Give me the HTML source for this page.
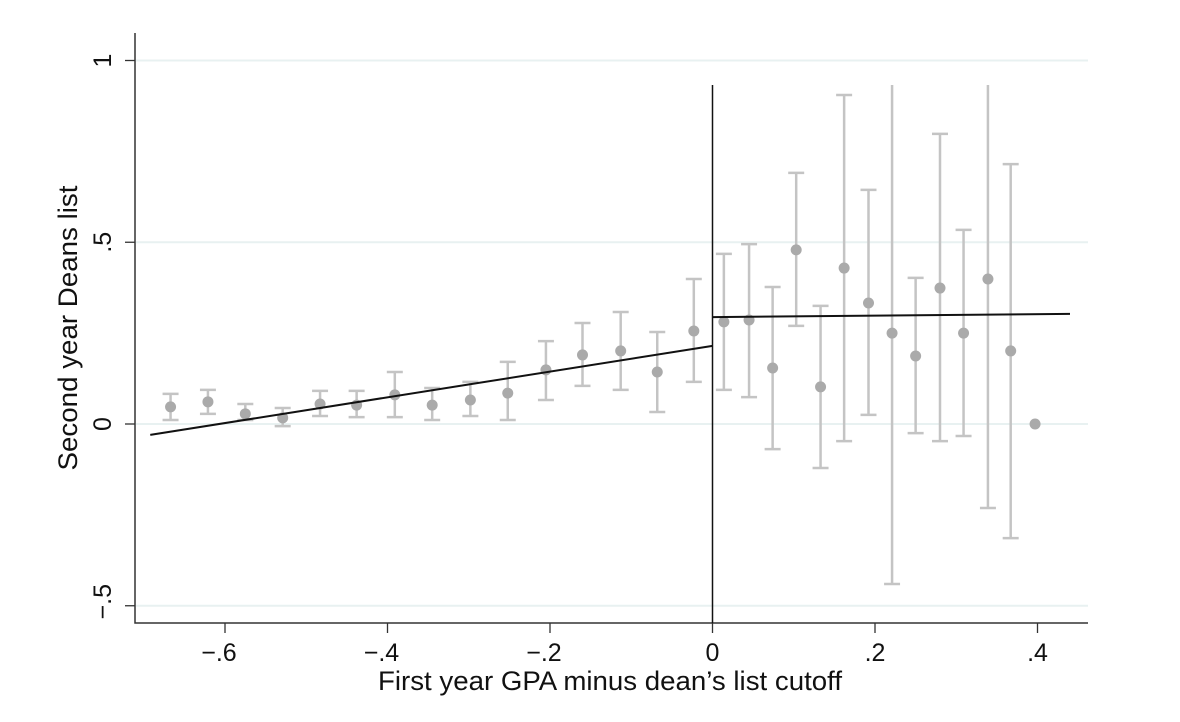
<!DOCTYPE html>
<html><head><meta charset="utf-8"><style>
html,body{margin:0;padding:0;background:#fff}
svg{display:block;font-family:"Liberation Sans",Arial,sans-serif}
</style></head><body>
<svg id="chart" width="1180" height="722" viewBox="0 0 1180 722" xmlns="http://www.w3.org/2000/svg">
<g id="grid"></g>
<g id="bars"></g>
<g id="pts"></g>
<g id="fits"></g>
<g id="axes"></g>
<text x="610" y="690" font-size="27" text-anchor="middle" fill="#111" textLength="464" lengthAdjust="spacingAndGlyphs">First year GPA minus dean’s list cutoff</text>
<text transform="translate(77,328) rotate(-90)" font-size="27" text-anchor="middle" fill="#111" textLength="285" lengthAdjust="spacingAndGlyphs">Second year Deans list</text>
</svg>
<script>
const binX=[-0.667,-0.621,-0.575,-0.529,-0.483,-0.438,-0.391,-0.345,-0.298,-0.252,-0.205,-0.160,-0.113,-0.068,-0.023,0.014,0.045,0.074,0.103,0.133,0.162,0.192,0.221,0.250,0.280,0.309,0.339,0.367,0.397];
const binMean=[0.047,0.061,0.028,0.017,0.055,0.052,0.080,0.052,0.066,0.085,0.149,0.190,0.201,0.143,0.256,0.281,0.286,0.154,0.479,0.102,0.429,0.333,0.250,0.187,0.374,0.250,0.399,0.201,0];
const ciLow=[0.011,0.028,0.011,-0.006,0.022,0.019,0.019,0.011,0.022,0.011,0.066,0.105,0.094,0.033,0.116,0.094,0.074,-0.069,0.270,-0.121,-0.047,0.025,-0.440,-0.025,-0.047,-0.033,-0.231,-0.314,null];
const ciHigh=[0.083,0.094,0.055,0.044,0.091,0.091,0.143,0.099,0.116,0.171,0.228,0.278,0.308,0.253,0.399,0.468,0.495,0.377,0.691,0.325,0.905,0.644,1.1,0.402,0.798,0.534,1.1,0.715,null];
const fitLeft=[[-0.692,-0.030],[0,0.215]];
const fitRight=[[0,0.294],[0.44,0.303]];
const xTicks=[-0.6,-0.4,-0.2,0,0.2,0.4];
const xTickLabels=["−.6","−.4","−.2","0",".2",".4"];
const yTicks=[-0.5,0,0.5,1];
const yTickLabels=["−.5","0",".5","1"];
const X=v=>712.5+v*812.5;
const Y=v=>424-v*363.5;
const TOP=85;
const NS="http://www.w3.org/2000/svg";
function mk(tag,attrs,parent){const e=document.createElementNS(NS,tag);for(const k in attrs)e.setAttribute(k,attrs[k]);parent.appendChild(e);return e;}
const grid=document.getElementById('grid'),bars=document.getElementById('bars'),pts=document.getElementById('pts'),fits=document.getElementById('fits'),axes=document.getElementById('axes');
yTicks.forEach((t,i)=>{
  const g=mk('line',{x1:136,x2:1088,y1:Y(t),y2:Y(t),stroke:'#e8f1f1','stroke-width':2},grid);
  
  
  const tk=mk('line',{x1:125,x2:135,y1:Y(t),y2:Y(t),stroke:'#333','stroke-width':1.3},axes);
  
  
  const tx=mk('text',{transform:`translate(111,${Y(t)+(t<0?-4:0)}) rotate(-90)`,'font-size':25,'text-anchor':'middle',fill:'#111'},axes);
  tx.textContent=yTickLabels[i];
  
  
});
xTicks.forEach((t,i)=>{
  const tk=mk('line',{x1:X(t),x2:X(t),y1:623,y2:633,stroke:'#333','stroke-width':1.3},axes);
  
  
  const tx=mk('text',{x:X(t)-(t<0?6:0),y:661,'font-size':25,'text-anchor':'middle',fill:'#111'},axes);
  tx.textContent=xTickLabels[i];
  
  
});
const ax=mk('path',{d:'M135,33 V623 H1088',fill:'none',stroke:'#333','stroke-width':1.5},axes);


const vl=mk('line',{x1:X(0),x2:X(0),y1:TOP,y2:623,stroke:'#111','stroke-width':1.5},axes);


binX.forEach((x,i)=>{
  if(ciLow[i]!==null){
    const y1=Math.max(Y(ciHigh[i]),TOP),y2=Y(ciLow[i]);
    const b=mk('path',{d:`M${X(x)},${y1}V${y2}`+(Y(ciHigh[i])>=TOP?`M${X(x)-8},${y1}h16`:'')+`M${X(x)-8},${y2}h16`,stroke:'#c4c4c4','stroke-width':2.5,fill:'none'},bars);
    
    
  }
  const c=mk('circle',{cx:X(x),cy:Y(binMean[i]),r:5.5,fill:'#aaaaaa'},pts);
  
  
});
[fitLeft,fitRight].forEach(f=>{
  const l=mk('line',{x1:X(f[0][0]),y1:Y(f[0][1]),x2:X(f[1][0]),y2:Y(f[1][1]),stroke:'#111','stroke-width':2},fits);
  
  
});
</script>
</body></html>
